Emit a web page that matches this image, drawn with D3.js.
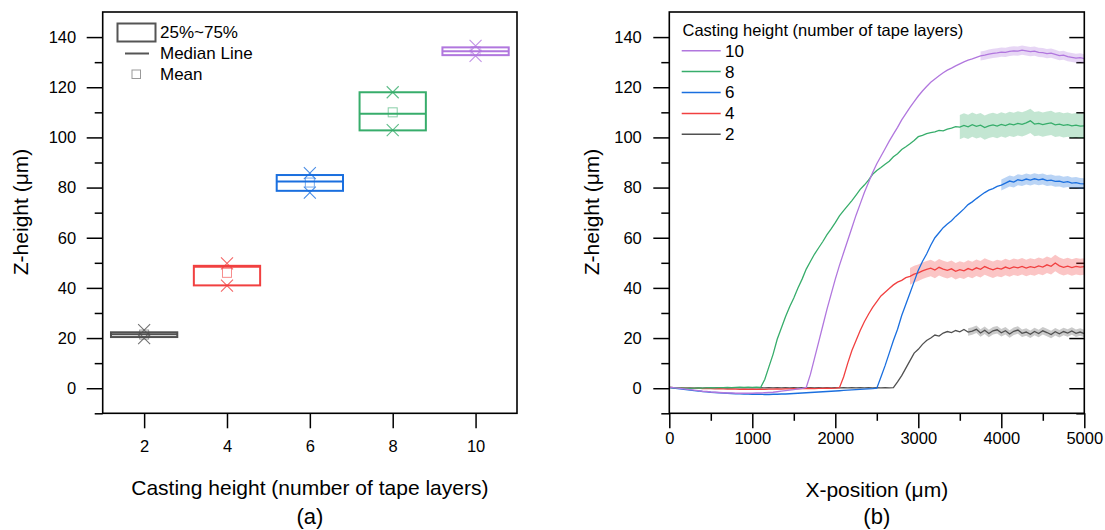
<!DOCTYPE html>
<html lang="en">
<head>
<meta charset="utf-8">
<title>Z-height vs casting height</title>
<style>
    body { margin: 0; background: #fff; }
    svg { font-family: Arial, "Liberation Sans", sans-serif; }
    .tick text { font-size: 16.5px; fill: #000; }
    .tick line { stroke: #000; stroke-width: 1.5; }
</style>
</head>
<body>
<svg id="chart" width="1105" height="530"></svg>
<script src="https://cdn.jsdelivr.net/npm/d3@7"></script>
<script>
// ---- panel (a): box summary per casting height ----
const layers = [2, 4, 6, 8, 10];
const q1 = [20.4, 41.0, 78.7, 102.8, 132.8];
const q3 = [22.3, 48.8, 85.0, 118.0, 135.9];
const median = [21.5, 48.4, 82.4, 109.4, 134.4];
const mean = [21.4, 46.0, 82.0, 110.0, 134.4];
const zMin = [20.0, 40.9, 78.0, 102.9, 132.5];
const zMax = [23.2, 49.8, 85.8, 118.0, 136.5];
const colors = ["#515151", "#F14040", "#1A6FDF", "#37AD6B", "#B177DE"];

// ---- panel (b): profiles, sampled every 50 um ----
const xPos = [0,50,100,150,200,250,300,350,400,450,500,550,600,650,700,750,800,850,900,950,
    1000,1050,1100,1150,1200,1250,1300,1350,1400,1450,1500,1550,1600,1650,1700,1750,1800,1850,1900,1950,
    2000,2050,2100,2150,2200,2250,2300,2350,2400,2450,2500,2550,2600,2650,2700,2750,2800,2850,2900,2950,
    3000,3050,3100,3150,3200,3250,3300,3350,3400,3450,3500,3550,3600,3650,3700,3750,3800,3850,3900,3950,
    4000,4050,4100,4150,4200,4250,4300,4350,4400,4450,4500,4550,4600,4650,4700,4750,4800,4850,4900,4950,5000];
const z2 = [0.3,0.2,0.1,0.1,0,0.1,0,0.1,0,0.1,0,0.1,0.2,0.1,0,0.1,0.2,0.1,0.2,0.1,
    0.2,0.1,0.2,0.1,0.2,0.1,0.2,0.1,0.2,0.1,0.2,0.1,0.2,0.1,0.2,0.1,0.2,0.1,0.2,0.1,
    0.2,0.1,0.2,0.1,0.2,0.1,0.2,0.1,0.2,0.1,0.2,0.1,0.2,0.1,0.2,2.5,5,8,11,14,
    15.5,17.5,19,20,21.2,20.8,22,22.6,22.2,23.0,22.5,23.4,22.4,22.8,23.5,22.0,23.1,21.8,22.9,23.3,
    22.1,22.9,21.6,22.7,23.2,21.9,22.4,21.5,22.6,21.8,22.9,22.2,21.4,22.5,21.7,22.6,22.0,22.8,21.9,22.4,21.8];
const z4 = [0.3,0.2,0.1,0,0,-0.1,-0.1,0,-0.2,-0.1,-0.2,-0.3,-0.2,-0.3,-0.4,-0.3,-0.4,-0.5,-0.4,-0.5,
    -0.4,-0.5,-0.4,-0.5,-0.4,-0.4,-0.3,-0.4,-0.3,-0.3,-0.2,-0.3,-0.2,-0.2,-0.1,-0.2,-0.1,-0.1,0,-0.1,
    0,0.2,4.5,10,15,19,23,26.5,29.5,32.2,34.5,36.8,38.3,39.8,41.2,42.3,43,44.1,44.6,45.5,
    46,46.8,47.4,47.9,47.1,48.2,47.5,47.0,47.6,46.6,47.3,46.8,47.7,47.1,48.0,47.4,48.5,47.8,47.2,47.9,
    47.5,48.3,47.7,48.4,48.0,48.6,47.9,48.5,48.1,48.8,48.3,49.2,48.6,49.9,48.8,48.2,48.7,48.1,48.6,48.3,48.5];
const z6 = [0.2,0,-0.2,-0.4,-0.6,-0.8,-1.0,-1.1,-1.3,-1.4,-1.6,-1.7,-1.8,-1.9,-2.0,-2.1,-2.2,-2.2,-2.3,-2.3,
    -2.4,-2.4,-2.4,-2.5,-2.5,-2.4,-2.4,-2.3,-2.3,-2.2,-2.1,-2.0,-1.9,-1.8,-1.7,-1.6,-1.5,-1.4,-1.3,-1.2,
    -1.1,-1.0,-0.9,-0.8,-0.7,-0.6,-0.5,-0.4,-0.3,-0.2,0,4.5,9,14,19,23.5,29,33.5,38,42.5,
    47,50.5,53.5,57,60,62,64,65.5,66.8,68.5,70,71.5,73.2,74.3,75.6,76.8,78,79,79.6,80.5,
    81,81.8,82.6,82.2,83.1,82.8,83.4,83.0,83.5,83.1,83.4,82.8,83.0,82.5,82.6,82.1,82.4,81.8,82.0,81.6,81.5];
const z8 = [0.3,0.2,0.1,0,0,-0.1,0,0.1,0,0.1,0.2,0.1,0.2,0.2,0.3,0.2,0.3,0.4,0.3,0.4,
    0.3,0.4,0.3,3.5,8.5,13.5,19.5,24,28.5,32.5,36,40,43.5,47.5,50.5,53.5,56,58.5,61.2,63.5,
    66,68.7,70.8,72.8,74.8,77,79.3,81,83,85.3,86.8,88,89.3,90.5,92.3,93.5,95.2,96.3,97.5,98.8,
    100.3,100.8,101.5,101.9,102.2,102.8,102.6,103.3,103.7,104.3,104.1,104.8,104.2,105.1,104.4,104.9,103.9,104.6,105.0,104.5,
    105.2,104.7,105.4,105.0,105.6,105.2,105.8,106.6,105.3,105.6,105.1,105.5,105.8,105.0,105.3,104.8,105.1,104.6,104.9,104.5,104.6];
const z10 = [0.3,0.2,0,-0.2,-0.4,-0.6,-0.8,-1.0,-1.2,-1.3,-1.5,-1.6,-1.7,-1.8,-1.9,-1.9,-2.0,-2.0,-2.0,-2.0,
    -2.0,-1.9,-1.9,-1.8,-1.7,-1.6,-1.4,-1.2,-1.0,-0.8,-0.6,-0.3,-0.1,0.3,5.5,12,18.5,25,31.5,37.5,
    43.5,49,54,59,64,69,73.5,78,82,86,89.5,92.5,95.5,98.5,101.3,104,107,109.5,112,114.3,
    116.5,118.5,120.3,122,123.3,124.6,125.8,126.8,127.6,128.5,129.3,130.1,130.8,131.3,131.9,132.5,132.8,133.2,133.5,133.7,
    134,133.9,134.3,134.5,134.4,134.8,134.5,134.2,134.4,133.9,133.8,133.4,133.6,133.1,132.6,132.8,132.2,131.9,131.6,131.8,131.4];
// standard deviation band: where it starts and its half width
const bandStart = [3600, 2900, 4000, 3500, 3750];
const bandHalf = [1.5, 3.3, 2.2, 4.8, 1.8];

const profiles = [z2, z4, z6, z8, z10];

const svg = d3.select("#chart");
const plotTop = 12, plotBottom = 413.3;
const plotH = plotBottom - plotTop;
const yTicks = [0, 20, 40, 60, 80, 100, 120, 140];
const yMinor = [-10, 10, 30, 50, 70, 90, 110, 130];

function frame(g, w) {
    g.append("rect")
        .attr("x", 0).attr("y", 0)
        .attr("width", w).attr("height", plotH)
        .attr("fill", "none").attr("stroke", "#000").attr("stroke-width", 1.6);
}

function yAxes(g, y, pad) {
    g.append("g").call(d3.axisLeft(y).tickValues(yTicks).tickSize(16).tickPadding(pad))
        .call(a => a.select(".domain").remove());
    g.append("g").call(d3.axisLeft(y).tickValues(yMinor).tickSize(8).tickFormat(""))
        .call(a => a.select(".domain").remove());
}

// ================= panel (a) =================
const aLeft = 102.7, aRight = 517;
const ga = svg.append("g").attr("transform", "translate(" + aLeft + "," + plotTop + ")");
const xa = d3.scaleLinear().domain([1, 11]).range([0, aRight - aLeft]);
const ya = d3.scaleLinear().domain([-10, 150]).range([plotH, 0]);

yAxes(ga, ya, 10.5);
ga.append("g").attr("transform", "translate(0," + plotH + ")")
    .call(d3.axisBottom(xa).tickValues(layers).tickSize(15).tickPadding(12))
    .call(a => a.select(".domain").remove());

const boxes = ga.selectAll(".box").data(layers).enter().append("g").attr("class", "box");
boxes.append("rect")
    .attr("x", d => xa(d - 0.8))
    .attr("y", (d, i) => ya(q3[i]))
    .attr("width", xa(1.8) - xa(0.2))
    .attr("height", (d, i) => ya(q1[i]) - ya(q3[i]))
    .attr("fill", "none")
    .attr("stroke", (d, i) => colors[i])
    .attr("stroke-width", 2);
boxes.append("line")
    .attr("x1", d => xa(d - 0.8)).attr("x2", d => xa(d + 0.8))
    .attr("y1", (d, i) => ya(median[i])).attr("y2", (d, i) => ya(median[i]))
    .attr("stroke", (d, i) => colors[i]).attr("stroke-width", 2);
boxes.append("rect")
    .attr("x", d => xa(d) - 4.5)
    .attr("y", (d, i) => ya(mean[i]) - 4.5)
    .attr("width", 9).attr("height", 9)
    .attr("fill", "none")
    .attr("stroke", (d, i) => colors[i]).attr("stroke-opacity", 0.6).attr("stroke-width", 1);
// min / max crosses
[zMin, zMax].forEach(arr => {
    boxes.append("path")
        .attr("d", (d, i) => {
            const cx = xa(d), cy = ya(arr[i]), s = 6;
            return "M" + (cx - s) + "," + (cy - s) + "L" + (cx + s) + "," + (cy + s) +
                "M" + (cx - s) + "," + (cy + s) + "L" + (cx + s) + "," + (cy - s);
        })
        .attr("stroke", (d, i) => colors[i]).attr("stroke-opacity", 0.8).attr("stroke-width", 1.1)
        .attr("fill", "none");
});
frame(ga, aRight - aLeft);

// legend (a)
const la = svg.append("g");
la.append("rect").attr("x", 117.5).attr("y", 23.5).attr("width", 38).attr("height", 18)
    .attr("fill", "none").attr("stroke", "#555").attr("stroke-width", 2);
la.append("line").attr("x1", 125).attr("x2", 149).attr("y1", 53.5).attr("y2", 53.5)
    .attr("stroke", "#555").attr("stroke-width", 2);
la.append("rect").attr("x", 132).attr("y", 70).attr("width", 8.5).attr("height", 8.5)
    .attr("fill", "none").attr("stroke", "#999").attr("stroke-width", 1);
[["25%~75%", 32.5], ["Median Line", 53.5], ["Mean", 74]].forEach(t => {
    la.append("text").attr("x", 160).attr("y", t[1]).attr("dy", "0.35em")
        .attr("font-size", 17).text(t[0]);
});

svg.append("text").attr("x", (aLeft + aRight) / 2).attr("y", 488).attr("dy", "0.35em")
    .attr("text-anchor", "middle").attr("font-size", 21)
    .text("Casting height (number of tape layers)");
svg.append("text").attr("x", (aLeft + aRight) / 2).attr("y", 516).attr("dy", "0.35em")
    .attr("text-anchor", "middle").attr("font-size", 22).text("(a)");
svg.append("text").attr("transform", "translate(21,212) rotate(-90)").attr("dy", "0.35em")
    .attr("text-anchor", "middle").attr("font-size", 21).text("Z-height (\u03bcm)");

// ================= panel (b) =================
const bLeft = 669.3, bRight = 1084.3;
const gb = svg.append("g").attr("transform", "translate(" + bLeft + "," + plotTop + ")");
const xb = d3.scaleLinear().domain([0, 5000]).range([0, bRight - bLeft]);
const yb = d3.scaleLinear().domain([-10, 150]).range([plotH, 0]);

yAxes(gb, yb, 11.5);
// mirrored ticks on the right, pointing inward
const rightAx = gb.append("g").attr("transform", "translate(" + (bRight - bLeft) + ",0)");
rightAx.append("g").call(d3.axisLeft(yb).tickValues(yTicks).tickSize(15).tickFormat(""))
    .call(a => a.select(".domain").remove());
rightAx.append("g").call(d3.axisLeft(yb).tickValues(yMinor).tickSize(8).tickFormat(""))
    .call(a => a.select(".domain").remove());
gb.append("g").attr("transform", "translate(0," + plotH + ")")
    .call(d3.axisBottom(xb).tickValues([0, 1000, 2000, 3000, 4000, 5000]).tickSize(15).tickPadding(4).tickFormat(d3.format("d")))
    .call(a => a.select(".domain").remove());
gb.append("g").attr("transform", "translate(0," + plotH + ")")
    .call(d3.axisBottom(xb).tickValues([500, 1500, 2500, 3500, 4500]).tickSize(7.5).tickFormat(""))
    .call(a => a.select(".domain").remove());

gb.append("clipPath").attr("id", "clipb").append("rect")
    .attr("width", bRight - bLeft).attr("height", plotH);

const plotB = gb.append("g").attr("clip-path", "url(#clipb)");

// std bands
profiles.forEach((z, s) => {
    const pts = xPos.map((x, i) => [x, z[i]]).filter(p => p[0] >= bandStart[s]);
    const area = d3.area()
        .x(p => xb(p[0]))
        .y0(p => yb(p[1] - bandHalf[s]))
        .y1(p => yb(p[1] + bandHalf[s]));
    plotB.append("path").attr("d", area(pts))
        .attr("fill", colors[s]).attr("fill-opacity", 0.3);
});

const line = d3.line().x(p => xb(p[0])).y(p => yb(p[1]));
profiles.forEach((z, s) => {
    plotB.append("path")
        .attr("d", line(xPos.map((x, i) => [x, z[i]])))
        .attr("fill", "none").attr("stroke", colors[s]).attr("stroke-width", 1.3);
});
frame(gb, bRight - bLeft);

// legend (b)
const lb = svg.append("g");
lb.append("text").attr("x", 682.5).attr("y", 30).attr("dy", "0.35em").attr("font-size", 16.5)
    .text("Casting height (number of tape layers)");
const legendOrder = [4, 3, 2, 1, 0];
legendOrder.forEach((s, k) => {
    const yy = 50.7 + k * 20.9;
    lb.append("line").attr("x1", 681.7).attr("x2", 720.7).attr("y1", yy).attr("y2", yy)
        .attr("stroke", colors[s]).attr("stroke-width", 1.5);
    lb.append("text").attr("x", 725).attr("y", yy).attr("dy", "0.35em").attr("font-size", 17)
        .text(layers[s]);
});

svg.append("text").attr("x", (bLeft + bRight) / 2).attr("y", 490).attr("dy", "0.35em")
    .attr("text-anchor", "middle").attr("font-size", 21).text("X-position (\u03bcm)");
svg.append("text").attr("x", (bLeft + bRight) / 2).attr("y", 516).attr("dy", "0.35em")
    .attr("text-anchor", "middle").attr("font-size", 22).text("(b)");
svg.append("text").attr("transform", "translate(591.5,212) rotate(-90)").attr("dy", "0.35em")
    .attr("text-anchor", "middle").attr("font-size", 21).text("Z-height (\u03bcm)");
</script>
</body>
</html>
